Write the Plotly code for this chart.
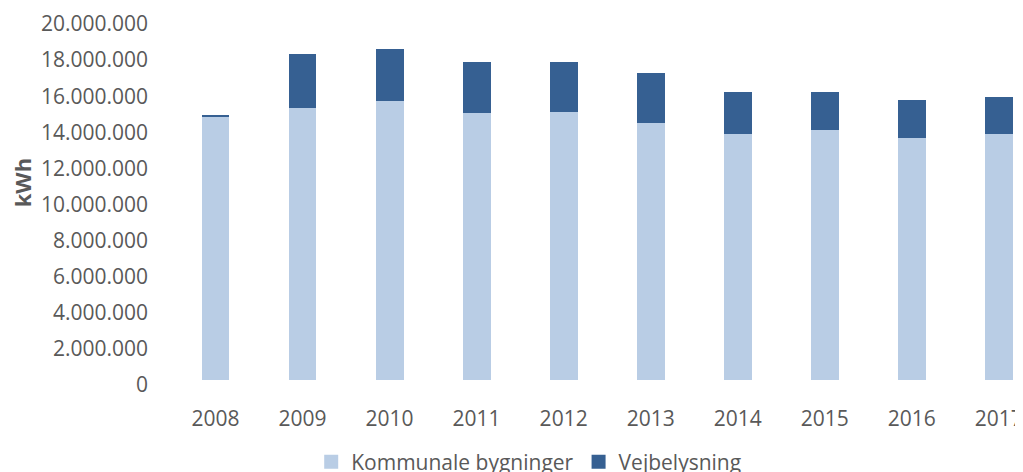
import plotly.graph_objects as go

# Values (kWh)
years = ["2008", "2009", "2010", "2011", "2012", "2013", "2014", "2015", "2016", "2017"]
kommunale = [14600000, 15050000, 15440000, 14780000, 14830000, 14220000, 13610000, 13830000, 13390000, 13610000]
vejbelysning = [80000, 3010000, 2890000, 2830000, 2780000, 2780000, 2330000, 2110000, 2110000, 2060000]
ytick_vals = list(range(0, 20000001, 2000000))

series = [("Kommunale bygninger", kommunale, "#B9CDE5"),
          ("Vejbelysning", vejbelysning, "#366092")]

font_family = "Open Sans, Lato, sans-serif"
grey = "#595959"

fig = go.Figure()
for name, vals, color in series:
    fig.add_trace(go.Bar(x=years, y=vals, name=name, showlegend=False,
                         marker=dict(color=color, line=dict(width=0))))
# legend entries with larger square keys, like the original
for name, vals, color in series:
    fig.add_trace(go.Scatter(x=[None], y=[None], name=name, mode="markers",
                             marker=dict(symbol="square", size=14, color=color)))

fig.update_layout(
    width=1023, height=472,
    barmode="stack",
    bargap=0.68,
    separators=",.",
    paper_bgcolor="white", plot_bgcolor="white",
    margin=dict(l=164, r=0, t=11, b=100),
    font=dict(family=font_family, size=21, color=grey),
    showlegend=True,
    legend=dict(orientation="h", xref="container", yref="container",
                x=0.509, xanchor="center", y=0.038, yanchor="middle",
                font=dict(size=21, color=grey), traceorder="normal",
                itemwidth=30, tracegroupgap=0),
)
fig.update_xaxes(type="category", range=[-0.5, 9.37], showgrid=False, showline=False,
                 zeroline=False, ticks="", ticklabelstandoff=24, automargin=False,
                 tickfont=dict(size=21, color=grey))
fig.update_yaxes(range=[0, 20000000], tickvals=ytick_vals, tickformat=",d",
                 showgrid=False, showline=False, zeroline=False, ticks="",
                 ticklabelstandoff=23, ticklabelshift=5, automargin=False,
                 ticklabeloverflow="allow", tickfont=dict(size=21, color=grey))

# axis title sits a bit above the middle of the axis, as in the original
fig.add_annotation(text="<b>kWh</b>", textangle=-90, showarrow=False,
                   xref="paper", yref="paper", x=-0.1746, y=0.545,
                   xanchor="center", yanchor="middle",
                   font=dict(size=22, color=grey))

fig.write_html("out.html")
